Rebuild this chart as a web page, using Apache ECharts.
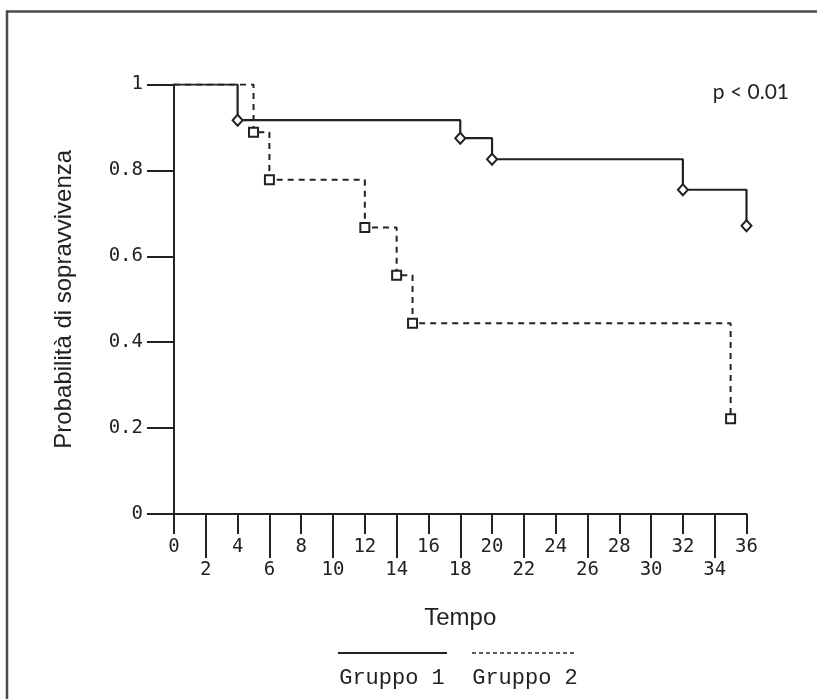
<!DOCTYPE html>
<html>
<head>
<meta charset="utf-8">
<script src="https://cdn.jsdelivr.net/npm/echarts@6/dist/echarts.min.js"></script>
<style>
html,body{margin:0;padding:0;background:#fff;}
#chart{width:817px;height:699px;}
</style>
</head>
<body>
<div id="chart"></div>
<script>
// Data
var group1Times = [0, 4, 18, 20, 32, 36];
var group1Surv  = [1, 0.917, 0.875, 0.826, 0.755, 0.671];
var group2Times = [0, 5, 6, 12, 14, 15, 35];
var group2Surv  = [1, 0.889, 0.778, 0.667, 0.556, 0.444, 0.222];
var seriesNames = ['Gruppo 1', 'Gruppo 2'];
var xUpperTicks = [0, 4, 8, 12, 16, 20, 24, 28, 32, 36];
var xLowerTicks = [2, 6, 10, 14, 18, 22, 26, 30, 34];
var yTicks = [0, 0.2, 0.4, 0.6, 0.8, 1];
var pValueText = 'p < 0.01';
var xTitle = 'Tempo';
var yTitle = 'Probabilità di sopravvivenza';

function buildData(t, s) {
  return t.map(function (x, i) {
    var item = { value: [x, s[i]] };
    if (i === 0) item.symbol = 'none';
    return item;
  });
}

var ink = '#222';
var monoFont = '"DejaVu Sans Mono", "Liberation Mono", monospace';

var chart = echarts.init(document.getElementById('chart'), null, { renderer: 'canvas' });
chart.setOption({
  animation: false,
  backgroundColor: '#fff',
  grid: { left: 174, right: 70.5, top: 84.5, bottom: 185, containLabel: false },
  xAxis: [
    {
      type: 'value', min: 0, max: 36, position: 'bottom',
      name: xTitle, nameLocation: 'middle', nameGap: 92,
      nameTextStyle: { fontFamily: '"Liberation Sans", Arial, sans-serif', fontSize: 24, color: ink },
      axisLine: { show: true, onZero: false, lineStyle: { color: ink, width: 2 } },
      axisTick: { show: true, length: 20, customValues: xUpperTicks, lineStyle: { color: ink, width: 2 } },
      axisLabel: { customValues: xUpperTicks, margin: 24, fontFamily: monoFont, fontSize: 19, color: ink, showMinLabel: true, showMaxLabel: true },
      splitLine: { show: false }
    },
    {
      type: 'value', min: 0, max: 36, position: 'bottom',
      axisLine: { show: false, onZero: false },
      axisTick: { show: true, length: 44, customValues: xLowerTicks, lineStyle: { color: ink, width: 2 } },
      axisLabel: { customValues: xLowerTicks, margin: 47, fontFamily: monoFont, fontSize: 19, color: ink },
      splitLine: { show: false }
    }
  ],
  yAxis: {
    type: 'value', min: 0, max: 1, interval: 0.2,
    name: yTitle, nameLocation: 'middle', nameGap: 98,
    nameTextStyle: { fontFamily: '"Liberation Sans", Arial, sans-serif', fontSize: 24, color: ink },
    axisLine: { show: true, onZero: false, lineStyle: { color: ink, width: 2 } },
    axisTick: { show: true, length: 27, lineStyle: { color: ink, width: 2 } },
    axisLabel: {
      margin: 31, fontFamily: monoFont, fontSize: 19, color: ink,
      formatter: function (v) { return v === 0 || v === 1 ? String(v) : v.toFixed(1); }
    },
    splitLine: { show: false }
  },
  series: [
    {
      name: seriesNames[0], type: 'line', step: 'end', xAxisIndex: 0,
      data: buildData(group1Times, group1Surv),
      symbol: 'diamond', symbolSize: [10, 11], showAllSymbol: true,
      lineStyle: { color: ink, width: 2.2 },
      itemStyle: { color: '#fff', borderColor: ink, borderWidth: 2 },
      z: 3
    },
    {
      name: seriesNames[1], type: 'line', step: 'end', xAxisIndex: 0,
      data: buildData(group2Times, group2Surv),
      symbol: 'rect', symbolSize: 9, showAllSymbol: true,
      lineStyle: { color: ink, width: 2, type: [6, 5] },
      itemStyle: { color: '#fff', borderColor: ink, borderWidth: 2 },
      z: 2
    }
  ],
  graphic: [
    { type: 'rect', shape: { x: 7, y: 11.5, width: 900, height: 800 }, style: { fill: 'none', stroke: '#4a4a4a', lineWidth: 2.5 }, silent: true },
    { type: 'text', x: 789, y: 92, style: { text: pValueText, fontFamily: 'Lato, "Open Sans", sans-serif', fontSize: 21, fill: ink, align: 'right', verticalAlign: 'middle' } },
    { type: 'line', shape: { x1: 338, y1: 653, x2: 447, y2: 653 }, style: { stroke: ink, lineWidth: 2 } },
    { type: 'line', shape: { x1: 472, y1: 653, x2: 577, y2: 653 }, style: { stroke: ink, lineWidth: 1.5, lineDash: [4, 3] } },
    { type: 'text', x: 392, y: 678, style: { text: seriesNames[0], fontFamily: '"Liberation Mono", monospace', fontSize: 22, fill: ink, align: 'center', verticalAlign: 'middle' } },
    { type: 'text', x: 525, y: 678, style: { text: seriesNames[1], fontFamily: '"Liberation Mono", monospace', fontSize: 22, fill: ink, align: 'center', verticalAlign: 'middle' } }
  ]
});
</script>
</body>
</html>
